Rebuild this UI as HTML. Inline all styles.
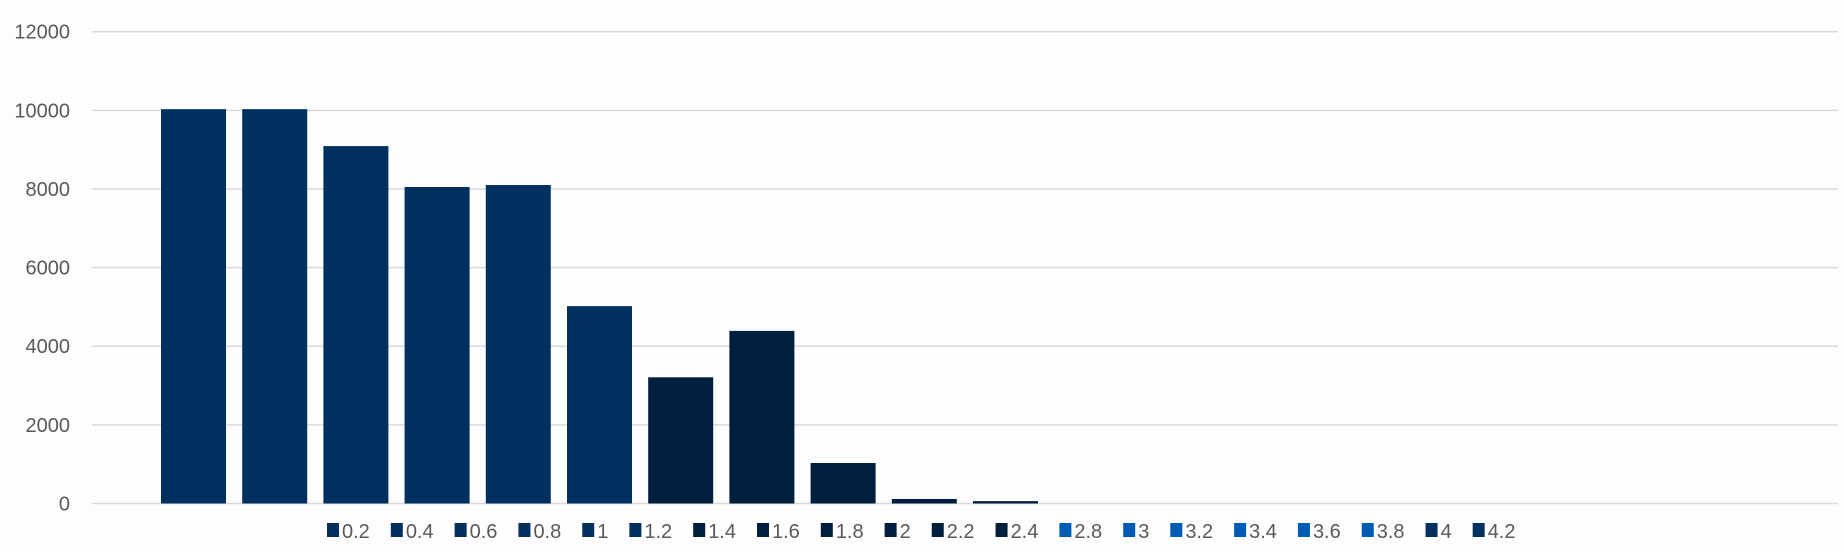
<!DOCTYPE html>
<html><head><meta charset="utf-8"><style>
html,body{margin:0;padding:0;background:#fdfdfd;}
svg{display:block;font-family:"Liberation Sans",sans-serif;}
</style></head><body>
<svg id="chart" width="1844" height="552" viewBox="0 0 1844 552">
<rect x="0" y="0" width="1844" height="552" fill="#fdfdfd"/>
<g id="grid"></g><g id="yticks"></g><g id="bars"></g><g id="legend"></g>
</svg>
<script>
const categories = ["0.2","0.4","0.6","0.8","1","1.2","1.4","1.6","1.8","2","2.2","2.4","2.8","3","3.2","3.4","3.6","3.8","4","4.2"];
const values = [10030,10030,9090,8050,8100,5020,3210,4390,1030,115,60,0,0,0,0,0,0,0,0,0];
const colors = ["#00305f","#00305f","#00305f","#00305f","#00305f","#00305f","#001f3f","#001f3f","#001f3f","#001f3f","#001f3f","#001f3f","#005bb5","#005bb5","#005bb5","#005bb5","#005bb5","#005bb5","#00305f","#00305f"];
const yTicks = [0,2000,4000,6000,8000,10000,12000];

const NS="http://www.w3.org/2000/svg";
const y0=503.5, yTop=31.7, yMax=12000;
function yScale(v){return y0-(v/yMax)*(y0-yTop);}
const firstLeft=161, pitch=81.2, barW=65;
function xScale(i){return firstLeft+i*pitch;}

const grid=document.getElementById('grid'), yt=document.getElementById('yticks');
yTicks.forEach(t=>{
  const l=document.createElementNS(NS,'line');
  l.setAttribute('x1',92);l.setAttribute('x2',1838);
  l.setAttribute('y1',yScale(t));l.setAttribute('y2',yScale(t));
  l.setAttribute('stroke','#d9d9d9');l.setAttribute('stroke-width','1.5');
  
  
  grid.appendChild(l);
  const tx=document.createElementNS(NS,'text');
  tx.setAttribute('x',70);tx.setAttribute('y',yScale(t)+7);
  tx.setAttribute('text-anchor','end');tx.setAttribute('font-size','20');
  tx.setAttribute('fill','#595959');tx.textContent=t;
  
  
  yt.appendChild(tx);
});

const bars=document.getElementById('bars');
values.forEach((v,i)=>{
  if(v<=0)return;
  const r=document.createElementNS(NS,'rect');
  r.setAttribute('x',xScale(i));r.setAttribute('width',barW);
  r.setAttribute('y',yScale(v));r.setAttribute('height',y0-yScale(v));
  r.setAttribute('fill',colors[i]);
  
  
  bars.appendChild(r);
});

const lg=document.getElementById('legend');
let lx=327;
categories.forEach((c,i)=>{
  const g=document.createElementNS(NS,'g');
  
  
  const m=document.createElementNS(NS,'rect');
  m.setAttribute('x',lx);m.setAttribute('y',523);m.setAttribute('width',12);m.setAttribute('height',14);
  m.setAttribute('fill',colors[i]);
  
  
  g.appendChild(m);
  const t=document.createElementNS(NS,'text');
  t.setAttribute('x',lx+15);t.setAttribute('y',538);t.setAttribute('font-size','20');
  t.setAttribute('fill','#595959');t.textContent=c;
  
  
  g.appendChild(t);
  lg.appendChild(g);
  lx+=15+t.getComputedTextLength()+21;
});
</script>
</body></html>
